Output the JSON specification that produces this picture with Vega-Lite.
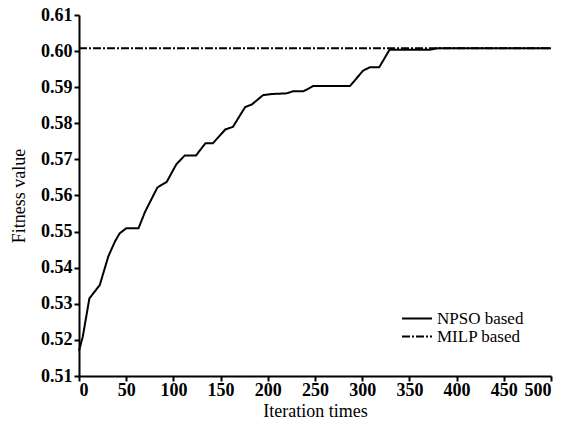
{
  "$schema": "https://vega.github.io/schema/vega-lite/v6.json",
  "width": 472,
  "height": 361,
  "autosize": {"type": "none"},
  "padding": {"left": 79, "top": 15, "right": 26, "bottom": 51},
  "background": "white",
  "config": {
    "view": {"stroke": null},
    "font": "Liberation Serif"
  },
  "data": {
    "values": [
      {"it": 0, "v": 0.5170, "s": "NPSO based"},
      {"it": 4, "v": 0.5209, "s": "NPSO based"},
      {"it": 11, "v": 0.5315, "s": "NPSO based"},
      {"it": 22, "v": 0.5352, "s": "NPSO based"},
      {"it": 31, "v": 0.5431, "s": "NPSO based"},
      {"it": 38, "v": 0.5472, "s": "NPSO based"},
      {"it": 43, "v": 0.5495, "s": "NPSO based"},
      {"it": 50, "v": 0.5509, "s": "NPSO based"},
      {"it": 63, "v": 0.5509, "s": "NPSO based"},
      {"it": 70, "v": 0.5555, "s": "NPSO based"},
      {"it": 83, "v": 0.5622, "s": "NPSO based"},
      {"it": 93, "v": 0.5638, "s": "NPSO based"},
      {"it": 103, "v": 0.5686, "s": "NPSO based"},
      {"it": 112, "v": 0.5711, "s": "NPSO based"},
      {"it": 124, "v": 0.5711, "s": "NPSO based"},
      {"it": 134, "v": 0.5745, "s": "NPSO based"},
      {"it": 142, "v": 0.5745, "s": "NPSO based"},
      {"it": 155, "v": 0.5783, "s": "NPSO based"},
      {"it": 163, "v": 0.5790, "s": "NPSO based"},
      {"it": 176, "v": 0.5845, "s": "NPSO based"},
      {"it": 183, "v": 0.5852, "s": "NPSO based"},
      {"it": 195, "v": 0.5878, "s": "NPSO based"},
      {"it": 204, "v": 0.5881, "s": "NPSO based"},
      {"it": 220, "v": 0.5883, "s": "NPSO based"},
      {"it": 227, "v": 0.5889, "s": "NPSO based"},
      {"it": 238, "v": 0.5889, "s": "NPSO based"},
      {"it": 248, "v": 0.5903, "s": "NPSO based"},
      {"it": 287, "v": 0.5903, "s": "NPSO based"},
      {"it": 301, "v": 0.5946, "s": "NPSO based"},
      {"it": 308, "v": 0.5955, "s": "NPSO based"},
      {"it": 318, "v": 0.5955, "s": "NPSO based"},
      {"it": 329, "v": 0.6004, "s": "NPSO based"},
      {"it": 372, "v": 0.6004, "s": "NPSO based"},
      {"it": 380, "v": 0.6008, "s": "NPSO based"},
      {"it": 500, "v": 0.6008, "s": "NPSO based"},
      {"it": 0, "v": 0.6008, "s": "MILP based"},
      {"it": 500, "v": 0.6008, "s": "MILP based"}
    ]
  },
  "mark": {"type": "line", "strokeWidth": 2, "color": "black", "interpolate": "linear"},
  "encoding": {
    "x": {
      "field": "it", "type": "quantitative",
      "scale": {"domain": [0, 500], "nice": false},
      "axis": {
        "title": "Iteration times",
        "values": [0, 50, 100, 150, 200, 250, 300, 350, 400, 450, 500],
        "grid": false,
        "domainColor": "black", "domainWidth": 2,
        "tickColor": "black", "tickWidth": 2, "tickSize": 5,
        "labelFont": "Liberation Serif", "labelFontSize": 18, "labelFontWeight": "bold", "labelColor": "black",
        "labelPadding": 0,
        "titleFont": "Liberation Serif", "titleFontSize": 18, "titleFontWeight": "normal", "titleColor": "black",
        "titlePadding": 3
      }
    },
    "y": {
      "field": "v", "type": "quantitative",
      "scale": {"domain": [0.51, 0.61], "nice": false, "zero": false},
      "axis": {
        "title": "Fitness value",
        "values": [0.51, 0.52, 0.53, 0.54, 0.55, 0.56, 0.57, 0.58, 0.59, 0.60, 0.61],
        "format": ".2f",
        "grid": false,
        "domainColor": "black", "domainWidth": 2,
        "tickColor": "black", "tickWidth": 2, "tickSize": 5,
        "labelFont": "Liberation Serif", "labelFontSize": 18, "labelFontWeight": "bold", "labelColor": "black",
        "labelPadding": 2,
        "titleFont": "Liberation Serif", "titleFontSize": 18, "titleFontWeight": "normal", "titleColor": "black",
        "titlePadding": 12
      }
    },
    "detail": {"field": "s", "type": "nominal"},
    "strokeDash": {
      "field": "s", "type": "nominal",
      "scale": {"domain": ["NPSO based", "MILP based"], "range": [[1, 0], [8, 2, 2, 2]]},
      "legend": {
        "title": null,
        "orient": "none",
        "legendX": 322,
        "legendY": 296,
        "symbolType": "stroke",
        "symbolSize": 900,
        "symbolStrokeWidth": 2,
        "symbolStrokeColor": "black",
        "clipHeight": 15,
        "labelFont": "Liberation Serif", "labelFontSize": 17, "labelColor": "black",
        "labelOffset": 4,
        "rowPadding": 0
      }
    }
  }
}
